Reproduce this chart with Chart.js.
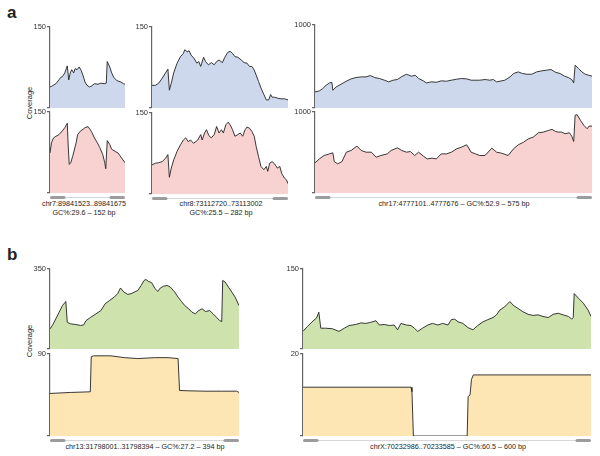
<!DOCTYPE html>
<html>
<head>
<meta charset="utf-8">
<script src="https://cdn.jsdelivr.net/npm/chart.js@4"></script>
<style>
    body { margin: 0; width: 600px; height: 456px; position: relative; overflow: hidden; background: #fff;
           font-family: "Liberation Sans", Arial, sans-serif; color: #222; }
    canvas { position: absolute; }
    .lbl { position: absolute; width: 240px; white-space: nowrap; font-size: 7.2px; line-height: 9px; text-align: center; }
    .letter { position: absolute; font-size: 17px; font-weight: bold; line-height: 17px; }
    .ylab { position: absolute; font-size: 7.5px; line-height: 9px; white-space: nowrap; transform: translate(-50%, -50%) rotate(-90deg); }
</style>
</head>
<body>
<div class="letter" style="left:7px;top:4px;">a</div>
<div class="letter" style="left:7px;top:246px;">b</div>
<div class="ylab" style="left:29px;top:103px;">Coverage</div>
<div class="ylab" style="left:29px;top:341px;">Coverage</div>
<div class="lbl" style="left:-36px;top:199px;">chr7:89841523..89841675<br>GC%:29.6 – 152 bp</div>
<div class="lbl" style="left:101px;top:199px;">chr8:73112720..73113002<br>GC%:25.5 – 282 bp</div>
<div class="lbl" style="left:334px;top:199px;">chr17:4777101..4777676 – GC%:52.9 – 575 bp</div>
<div class="lbl" style="left:25px;top:442px;">chr13:31798001..31798394 – GC%:27.2 – 394 bp</div>
<div class="lbl" style="left:328px;top:442px;">chrX:70232986..70233585 – GC%:60.5 – 600 bp</div>
<script>
// ── Region lengths (bp) ────────────────────────────────────────
const lengths = { chr7: 152, chr8: 282, chr17: 575, chr13: 394, chrX: 600 };

// ── chr7 ───────────────────────────────────────────────────────
const chr7BluePos = [0,3,12,18,22,25,30,35,38,41,44,48,51,55,59,63,67,71,75,80,85,90,97,103,110,114,116,121,125,129,135,138,144,149,152];
const chr7BlueCov = [39,40,45,52,57,58,65,78,52,65,71,65,73,71,76,70,60,48,42,39,41,45,44,46,45,46,86,76,65,57,51,50,48,45,44];
const chr7RedPos  = [0,3,7,12,18,25,30,35,37,39,42,46,53,56,62,67,71,77,81,85,90,96,101,107,111,113,116,121,125,132,138,145,152];
const chr7RedCov  = [74,93,102,105,108,115,121,129,85,53,56,68,93,108,115,118,121,123,118,112,102,93,84,71,56,45,97,90,81,77,74,65,56];

// ── chr8 ───────────────────────────────────────────────────────
const chr8BluePos = [0,7,14,21,28,33,36,40,45,52,59,65,68,73,77,81,87,93,97,101,107,111,117,123,129,134,139,146,151,157,162,167,172,178,185,191,197,202,207,211,216,221,226,232,237,242,246,249,254,261,268,275,282];
const chr8BlueCov = [42,42,46,55,65,72,33,46,65,83,95,101,108,104,106,98,92,83,86,77,94,86,80,84,80,86,89,84,94,103,105,101,95,94,89,84,83,77,77,72,61,49,37,25,15,15,25,20,20,18,17,17,15];
const chr8RedPos  = [0,7,14,21,28,33,36,40,45,52,59,65,70,75,80,86,91,95,101,104,109,113,118,123,129,134,139,144,148,153,158,162,167,172,178,183,188,193,197,202,207,212,216,221,226,232,237,240,244,249,254,260,265,269,275,279,282];
const chr8RedCov  = [54,57,58,60,66,73,31,48,63,79,91,100,104,97,100,94,97,100,110,100,113,119,108,104,110,125,113,119,113,128,133,128,119,107,110,113,107,119,124,122,116,107,88,69,51,45,51,42,57,60,56,48,51,38,29,26,19];

// ── chr17 ──────────────────────────────────────────────────────
const chr17BluePos = [0,9,16,23,30,35,37,44,54,65,75,85,96,106,115,124,134,144,153,162,171,179,190,200,208,215,225,231,242,252,262,273,283,294,304,315,324,332,342,353,363,370,377,384,394,405,412,422,431,440,450,460,471,481,490,499,509,518,526,533,537,540,547,554,561,568,575];
const chr17BlueCov = [194,206,234,274,302,310,214,254,286,323,351,367,375,375,391,367,355,335,315,335,343,375,407,383,395,355,327,302,315,310,327,323,335,347,355,351,335,335,335,343,335,343,315,323,335,375,415,435,415,407,407,435,448,456,464,431,415,383,367,343,302,516,476,435,407,395,383];
const chr17RedPos  = [0,9,19,30,37,40,47,56,65,75,87,96,106,117,127,137,150,158,171,180,190,198,207,215,225,233,243,252,262,273,283,294,304,315,324,333,342,353,367,377,387,401,412,422,433,443,453,464,474,485,492,499,505,512,519,528,533,537,540,544,551,558,565,569,575];
const chr17RedCov  = [372,421,463,483,496,388,360,388,504,525,579,525,504,504,442,463,483,525,558,525,504,512,463,504,455,421,430,421,483,483,504,545,566,595,504,483,463,463,554,504,492,463,545,595,628,669,690,744,752,773,785,760,752,752,731,744,702,636,959,967,897,835,793,826,826];

// ── chr13 ──────────────────────────────────────────────────────
const chr13GreenPos  = [0,5,12,19,26,33,36,43,54,64,70,75,85,96,106,115,124,134,141,147,154,162,169,176,183,190,196,200,205,212,219,225,230,237,244,251,260,267,274,281,289,296,303,310,317,324,333,340,347,354,358,360,365,372,379,386,394];
const chr13GreenCov  = [88,103,132,161,190,208,117,110,107,103,105,124,139,154,168,198,212,227,242,267,249,239,242,249,256,278,300,304,296,290,264,252,267,275,278,271,249,227,208,190,176,161,154,168,176,164,168,154,139,124,120,300,293,271,249,227,190];
const chr13YellowPos = [0,43,84,86,91,127,155,183,218,246,267,270,288,323,358,389,394];
const chr13YellowCov = [46.7,47.8,48.5,87,88,88,86,85,86,86,85,50,49.6,49.2,49.2,49.2,47.8];

// ── chrX ───────────────────────────────────────────────────────
const chrXGreenPos  = [0,9,19,28,33,37,47,61,75,86,96,110,121,131,141,152,159,169,180,190,197,204,215,225,232,239,249,260,270,281,291,302,309,316,323,333,344,354,364,375,385,396,403,410,420,431,438,448,458,469,479,490,500,511,521,532,542,553,560,563,565,574,584,594,600];
const chrXGreenCov  = [33,42,51,58,69,39,39,38,33,39,44,46,49,48,50,53,45,46,44,45,36,48,45,44,39,33,39,45,48,45,48,45,55,56,51,48,40,36,44,51,55,59,64,73,79,89,82,76,70,65,63,64,61,59,65,67,64,61,56,59,104,95,86,73,61];
const chrXYellowPos = [0,225,227,230,342,344,348,351,355,600];
const chrXYellowCov = [11.9,11.9,10.8,0,0,9.6,10,13.8,14.9,14.9];

// ── Panel layout ───────────────────────────────────────────────
const BLUE = '#cdd8ec', RED = '#f8d1d1', GREEN = '#cee2ad', YELLOW = '#fde6b4';
const panels = [
    { pos: chr7BluePos,  cov: chr7BlueCov,  len: lengths.chr7,  max: 150,  fill: BLUE,   left: 50,  right: 125, top: 27,  base: 108 },
    { pos: chr7RedPos,   cov: chr7RedCov,   len: lengths.chr7,  max: 150,  fill: RED,    left: 50,  right: 125, top: 112, base: 193, bar: true },
    { pos: chr8BluePos,  cov: chr8BlueCov,  len: lengths.chr8,  max: 150,  fill: BLUE,   left: 152, right: 288, top: 27,  base: 108 },
    { pos: chr8RedPos,   cov: chr8RedCov,   len: lengths.chr8,  max: 150,  fill: RED,    left: 152, right: 288, top: 113, base: 194, bar: true },
    { pos: chr17BluePos, cov: chr17BlueCov, len: lengths.chr17, max: 1000, fill: BLUE,   left: 315, right: 592, top: 25,  base: 108 },
    { pos: chr17RedPos,  cov: chr17RedCov,  len: lengths.chr17, max: 1000, fill: RED,    left: 315, right: 592, top: 112, base: 193, bar: true },
    { pos: chr13GreenPos,  cov: chr13GreenCov,  len: lengths.chr13, max: 350, fill: GREEN,  left: 50,  right: 239, top: 269, base: 349 },
    { pos: chr13YellowPos, cov: chr13YellowCov, len: lengths.chr13, max: 90,  fill: YELLOW, left: 50,  right: 239, top: 354, base: 436, bar: true },
    { pos: chrXGreenPos,   cov: chrXGreenCov,   len: lengths.chrX,  max: 150, fill: GREEN,  left: 303, right: 591, top: 269, base: 349 },
    { pos: chrXYellowPos,  cov: chrXYellowCov,  len: lengths.chrX,  max: 20,  fill: YELLOW, left: 303, right: 591, top: 354, base: 436, bar: true }
];

// ── Region bar under the bottom track ──────────────────────────
const regionBar = {
    id: 'regionBar',
    afterDraw(chart) {
        const { ctx, chartArea: a } = chart;
        const y = a.bottom + 4.5;
        ctx.save();
        ctx.strokeStyle = '#d6d6d6';
        ctx.lineWidth = 1;
        ctx.beginPath(); ctx.moveTo(a.left, y); ctx.lineTo(a.right, y); ctx.stroke();
        ctx.strokeStyle = '#9c9c9c';
        ctx.lineWidth = 3;
        ctx.lineCap = 'round';
        [[a.left + 1.5, a.left + 14], [a.right - 14, a.right - 1.5]].forEach(([x0, x1]) => {
            ctx.beginPath(); ctx.moveTo(x0, y); ctx.lineTo(x1, y); ctx.stroke();
        });
        ctx.restore();
    }
};

// ── Build one track ────────────────────────────────────────────
function makeTrack(p) {
    const W = 32, PT = 6, PB = p.bar ? 10 : 6, PR = 4;
    const w = p.right - p.left + W + PR;
    const h = p.base - p.top + PT + PB;
    const c = document.createElement('canvas');
    c.width = w; c.height = h;
    c.style.left = (p.left - W) + 'px';
    c.style.top = (p.top - PT) + 'px';
    c.style.width = w + 'px';
    c.style.height = h + 'px';
    document.body.appendChild(c);

    new Chart(c, {
        type: 'line',
        data: {
            datasets: [{
                data: p.pos.map((x, i) => ({ x, y: p.cov[i] })),
                borderColor: '#222',
                borderWidth: 0.9,
                backgroundColor: p.fill,
                fill: 'origin',
                pointRadius: 0,
                tension: 0
            }]
        },
        options: {
            responsive: false,
            animation: false,
            events: [],
            layout: { padding: { top: PT, bottom: PB, left: 0, right: PR } },
            plugins: { legend: { display: false }, tooltip: { enabled: false } },
            scales: {
                x: { type: 'linear', display: false, min: 0, max: p.len },
                y: {
                    min: 0, max: p.max,
                    afterFit: s => { s.width = W; },
                    afterBuildTicks: s => { s.ticks = [{ value: 0 }, { value: p.max }]; },
                    ticks: {
                        callback: v => v === 0 ? '' : v,
                        color: '#333',
                        padding: 1,
                        font: { size: 7.5, family: '"Liberation Sans", Arial, sans-serif' }
                    },
                    grid: { drawOnChartArea: false, tickLength: 3, color: '#666', lineWidth: 1.2 },
                    border: { color: '#666', width: 1.2 }
                }
            }
        },
        plugins: p.bar ? [regionBar] : []
    });
}

panels.forEach(makeTrack);
</script>
</body>
</html>
